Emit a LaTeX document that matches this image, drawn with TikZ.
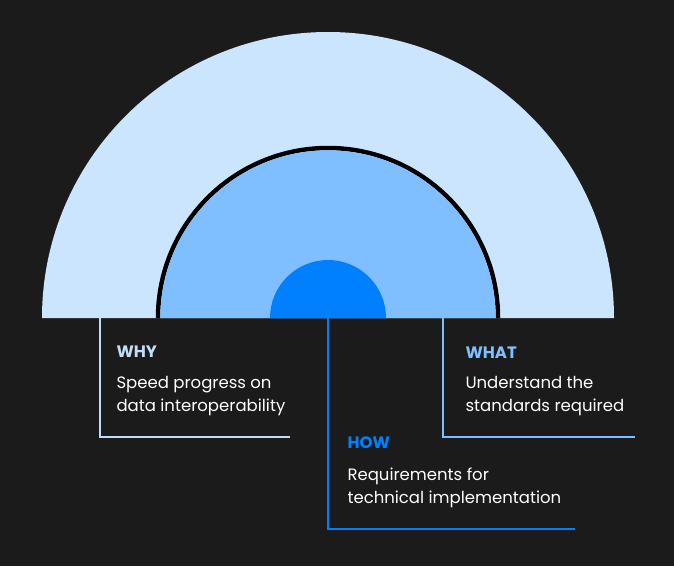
\documentclass[tikz,border=0pt]{standalone}
\usepackage{fontspec}
\setmainfont{Poppins}
\usetikzlibrary{positioning}
\definecolor{bgdark}{HTML}{1B1B1C}
\definecolor{paleblue}{HTML}{CCE5FF}
\definecolor{midblue}{HTML}{80BFFF}
\definecolor{deepblue}{HTML}{0080FF}
\definecolor{whycol}{HTML}{C2DDF7}
\tikzset{
  heading/.style={anchor=west,font=\fontsize{16.5}{19}\selectfont\bfseries},
  body/.style={anchor=west,align=left,text=white,font=\fontsize{16.5}{23}\selectfont},
  leader/.style={line width=1.2pt}
}
\begin{document}
\begin{tikzpicture}[x=1pt,y=-1pt]
\fill[bgdark] (0,0) rectangle (674,566);
\useasboundingbox (0,0) rectangle (674,566);
% rings
\coordinate (centre) at (328,318);
\fill[paleblue] (42,318) arc[start angle=180,end angle=360,radius=286] -- cycle;
\draw[black,line width=4.5pt] (158,318) arc[start angle=180,end angle=360,radius=170];
\fill[midblue] (160.3,318) arc[start angle=180,end angle=360,radius=167.7] -- cycle;
\fill[deepblue] (270,318) arc[start angle=180,end angle=360,radius=58] -- cycle;
% leaders
\coordinate (whytop) at (100,318);
\coordinate (whycorner) at (100,437);
\coordinate (whyend) at (290,437);
\draw[leader,whycol] (whytop) -- (whycorner) -- (whyend);
\coordinate (howtop) at (328,318);
\coordinate (howcorner) at (328,529);
\coordinate (howend) at (575,529);
\draw[leader,deepblue] (howtop) -- (howcorner) -- (howend);
\coordinate (whattop) at (443,318);
\coordinate (whatcorner) at (443,437);
\coordinate (whatend) at (635,437);
\draw[leader,midblue] (whattop) -- (whatcorner) -- (whatend);
% text
\node[heading,text=whycol] (why) at (113,352) {WHY};
\node[body] (whytext) at (113,396) {Speed progress on\\data interoperability};
\node[heading,text=deepblue] (how) at (344,443) {HOW};
\node[body] (howtext) at (344,488) {Requirements for\\technical implementation};
\node[heading,text=midblue] (what) at (462,353) {WHAT};
\node[body] (whattext) at (462,396) {Understand the\\standards required};
\end{tikzpicture}
\end{document}
